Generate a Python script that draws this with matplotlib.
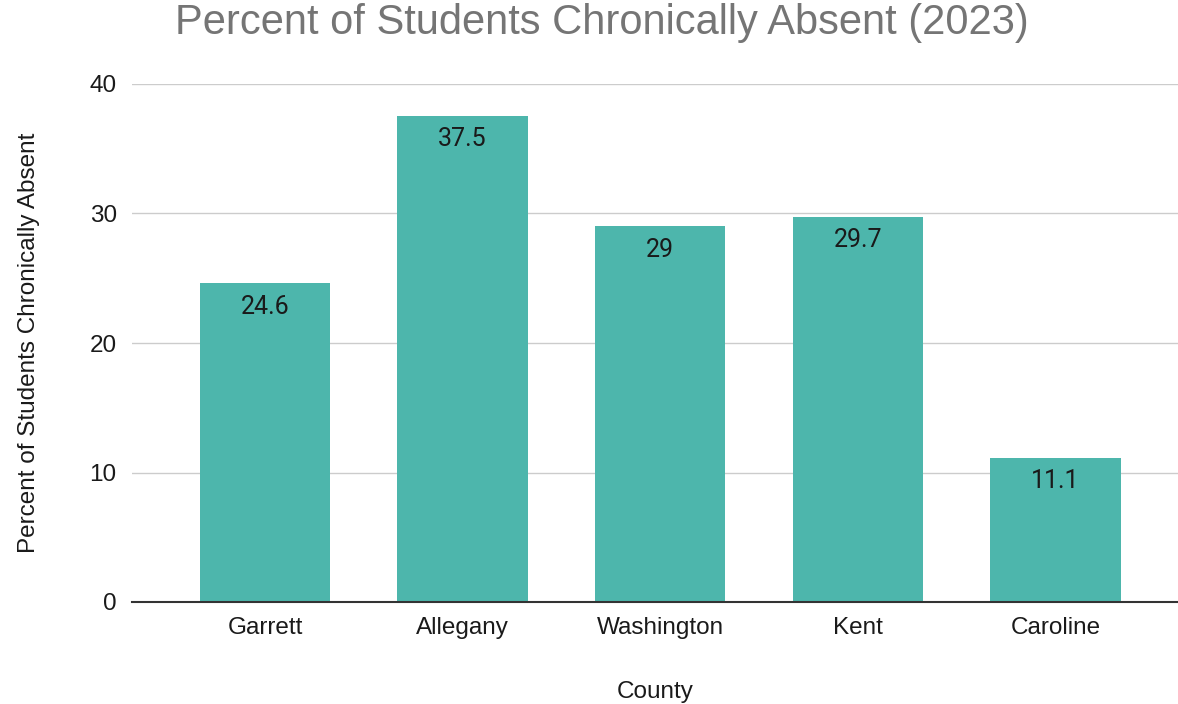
import matplotlib
matplotlib.use("Agg")
import matplotlib.pyplot as plt

counties = ["Garrett", "Allegany", "Washington", "Kent", "Caroline"]
percent_absent = [24.6, 37.5, 29.0, 29.7, 11.1]
value_labels = ["24.6", "37.5", "29", "29.7", "11.1"]
y_ticks = [0, 10, 20, 30, 40]

fig = plt.figure(figsize=(11.78, 7.04), dpi=100)
ax = fig.add_axes([132/1178, 1 - 602/704, 1 - 132/1178, (602 - 84)/704])

bar_color = "#4DB6AC"
x = list(range(len(counties)))
bars = ax.bar(x, percent_absent, width=0.66, color=bar_color, zorder=2)

for xi, v, lab in zip(x, percent_absent, value_labels):
    ax.annotate(lab, (xi, v), xytext=(0, -8), textcoords="offset points",
                ha="center", va="top", fontsize=18, family="Roboto", color="#1a1a1a", zorder=3)

ax.set_xlim(-0.673, 4.62)
ax.set_ylim(0, 40)
ax.set_yticks(y_ticks)
ax.set_xticks(x)
ax.set_xticklabels(counties, fontsize=17.5, family="Liberation Sans", color="#1a1a1a")
for t in ax.get_yticklabels():
    t.set_fontsize(17.5)
    t.set_family("Liberation Sans")
    t.set_color("#1a1a1a")
ax.tick_params(axis="both", length=0)
ax.tick_params(axis="y", pad=11)
ax.tick_params(axis="x", pad=11)
ax.grid(axis="y", color="#cccccc", linewidth=1, zorder=0)
for s in ["top", "right", "left"]:
    ax.spines[s].set_visible(False)
ax.spines["bottom"].set_color("#333333")
ax.spines["bottom"].set_linewidth(1.5)
ax.spines["bottom"].set_zorder(3)

ax.set_xlabel("County", fontsize=17.5, family="Liberation Sans", color="#1a1a1a", labelpad=30)
ax.set_ylabel("Percent of Students Chronically Absent", fontsize=17.5, family="Liberation Sans",
              color="#1a1a1a", labelpad=36)

fig.text(602/1178, 1 - 23/704, "Percent of Students Chronically Absent (2023)", ha="center", va="center",
         fontsize=30, family="Liberation Sans", color="#757575")

fig.savefig("out.png", dpi=100)
